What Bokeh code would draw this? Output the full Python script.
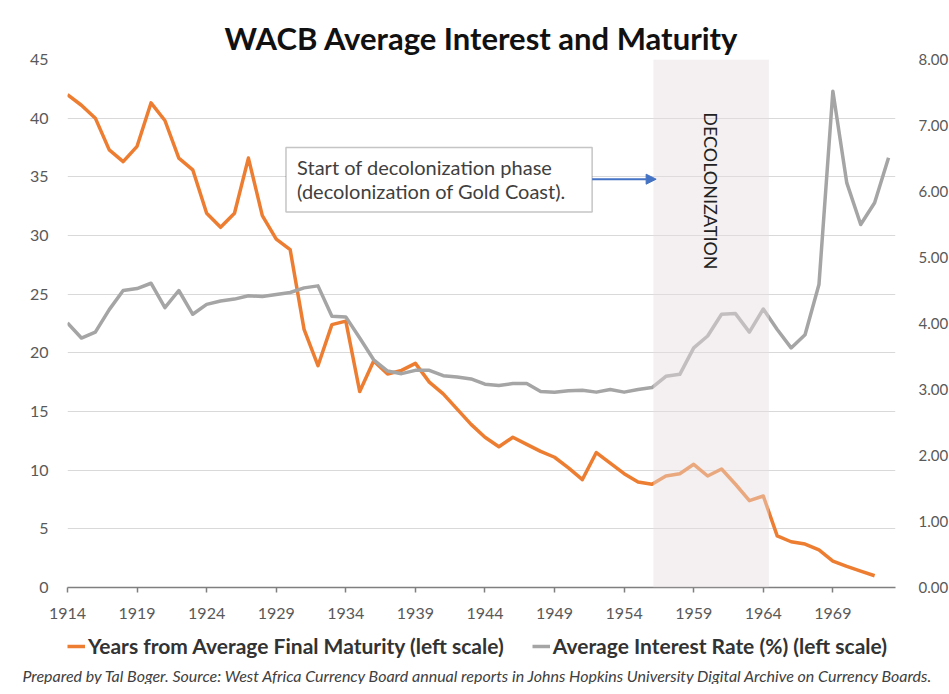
import math
from bokeh.plotting import figure
from bokeh.layouts import column
from bokeh.models import (Range1d, LinearAxis, FixedTicker, NumeralTickFormatter, BoxAnnotation,
                          Label, Arrow, NormalHead, Legend, LegendItem, Title)
from bokeh.embed import file_html
from bokeh.resources import INLINE

# ---------------- data ----------------
maturity_years = list(range(1914, 1973))
maturity = [42.0, 41.1, 40.0, 37.3, 36.3, 37.6, 41.3, 39.8, 36.6, 35.6,
            31.9, 30.7, 31.9, 36.6, 31.7, 29.7, 28.8, 22.0, 18.9, 22.4,
            22.7, 16.7, 19.3, 18.2, 18.5, 19.1, 17.5, 16.5, 15.2, 13.9,
            12.8, 12.0, 12.8, 12.2, 11.6, 11.1, 10.2, 9.2, 11.5, 10.6,
            9.7, 9.0, 8.8, 9.5, 9.7, 10.5, 9.5, 10.1, 8.8, 7.4,
            7.8, 4.4, 3.9, 3.7, 3.2, 2.25, 1.8, 1.4, 1.0]
rate_years = list(range(1914, 1974))
rate = [4.01, 3.78, 3.87, 4.21, 4.50, 4.53, 4.61, 4.24, 4.50, 4.14,
        4.29, 4.34, 4.37, 4.42, 4.41, 4.44, 4.47, 4.54, 4.57, 4.11,
        4.10, 3.78, 3.45, 3.28, 3.24, 3.29, 3.29, 3.21, 3.19, 3.16,
        3.08, 3.06, 3.09, 3.09, 2.97, 2.96, 2.98, 2.99, 2.96, 3.00,
        2.96, 3.00, 3.03, 3.20, 3.23, 3.63, 3.81, 4.14, 4.15, 3.87,
        4.22, 3.91, 3.63, 3.83, 4.59, 7.52, 6.13, 5.50, 5.83, 6.51]
x_ticks = [1914, 1919, 1924, 1929, 1934, 1939, 1944, 1949, 1954, 1959, 1964, 1969]
left_ticks = [0, 5, 10, 15, 20, 25, 30, 35, 40, 45]
right_ticks = [0, 1, 2, 3, 4, 5, 6, 7, 8]
decol_start, decol_end = 1956.1, 1964.4

title_text = "WACB Average Interest and Maturity"
series_names = ["Years from Average Final Maturity (left scale)",
                "Average Interest Rate (%) (left scale)"]
note_text = ("Prepared by Tal Boger. Source: West Africa Currency Board annual reports "
             "in Johns Hopkins University Digital Archive on Currency Boards.")

FONT = "Lato"
ORANGE = "#ed7d31"
GRAY = "#a5a5a5"
BLUE = "#4472c4"
TICK_COLOR = "#595959"

p = figure(frame_width=828, frame_height=528, output_backend="svg", toolbar_location=None,
           x_range=Range1d(1914, 1973.5), y_range=Range1d(0, 45),
           min_border_left=67, min_border_right=50, min_border_top=59, min_border_bottom=44)
p.outline_line_color = None
p.background_fill_color = "white"
p.border_fill_color = "white"

p.title.text = title_text
p.title.align = "center"
p.title.text_font = FONT
p.title.text_font_size = "31px"
p.title.text_font_style = "bold"
p.title.text_color = "#111111"
p.title.standoff = 5

# grid
p.xgrid.visible = False
p.ygrid.ticker = FixedTicker(ticks=left_ticks)
p.ygrid.grid_line_color = "#d9d9d9"
p.ygrid.grid_line_width = 1

# x axis
xa = p.xaxis[0]
xa.ticker = FixedTicker(ticks=x_ticks)
xa.axis_line_color = "#7f7f7f"
xa.axis_line_width = 1.5
xa.major_tick_line_color = "#7f7f7f"
xa.major_tick_line_width = 1.5
xa.major_tick_out = 5
xa.major_tick_in = 0
xa.minor_tick_line_color = None
xa.major_label_standoff = 15
xa.major_label_text_font = FONT
xa.major_label_text_font_size = "16px"
xa.major_label_text_color = TICK_COLOR

# left axis
ya = p.yaxis[0]
ya.ticker = FixedTicker(ticks=left_ticks)
ya.axis_line_color = None
ya.major_tick_line_color = None
ya.minor_tick_line_color = None
ya.major_label_standoff = 13
ya.major_label_text_font = FONT
ya.major_label_text_font_size = "16px"
ya.major_label_text_color = TICK_COLOR

# right axis
p.extra_y_ranges = {"rate": Range1d(0, 8)}
ra = LinearAxis(y_range_name="rate", ticker=FixedTicker(ticks=right_ticks),
                formatter=NumeralTickFormatter(format="0.00"))
ra.axis_line_color = None
ra.major_tick_line_color = None
ra.minor_tick_line_color = None
ra.major_label_standoff = 17
ra.major_label_text_font = FONT
ra.major_label_text_font_size = "15px"
ra.major_label_text_color = TICK_COLOR
p.add_layout(ra, "right")

# lines
r_mat = p.line(maturity_years, maturity, line_color=ORANGE, line_width=3.5, line_join="round")
r_rate = p.line(rate_years, rate, line_color=GRAY, line_width=3.5, line_join="round",
                y_range_name="rate")

# decolonization band (drawn over the lines, semi-transparent)
band = BoxAnnotation(left=decol_start, right=decol_end, fill_color="#e6dde1", fill_alpha=0.45,
                     line_color=None)
p.add_layout(band)
p.add_layout(Label(x=(decol_start + decol_end) / 2, y=33.8, text="DECOLONIZATION", angle=-math.pi / 2,
                   text_align="center", text_baseline="middle", text_font=FONT,
                   text_font_size="18px", text_color="#222222"))

# annotation box + arrow
p.add_layout(BoxAnnotation(left=1929.7, right=1951.7, top=37.5, bottom=32.0,
                           fill_color="white", fill_alpha=1.0, line_color="#404040", line_width=1.5))
p.add_layout(Label(x=1930.5, y=35.8, text="Start of decolonization phase", text_align="left",
                   text_baseline="middle", text_font=FONT, text_font_size="20px", text_color="#404040"))
p.add_layout(Label(x=1930.5, y=33.8, text="(decolonization of Gold Coast).", text_align="left",
                   text_baseline="middle", text_font=FONT, text_font_size="20px", text_color="#404040"))
p.add_layout(Arrow(end=NormalHead(size=10, fill_color=BLUE, line_color=BLUE),
                   x_start=1951.7, y_start=34.8, x_end=1956.3, y_end=34.8,
                   line_color=BLUE, line_width=2))

# ---------------- legend + source strip ----------------
p2 = figure(width=945, height=53, output_backend="svg", toolbar_location=None, title=None,
            x_axis_type=None, y_axis_type=None, x_range=Range1d(0, 1), y_range=Range1d(0, 1),
            min_border=0)
p2.outline_line_color = None
p2.xgrid.visible = False
p2.ygrid.visible = False
# legend keys only: the points lie outside the visible range
l_mat = p2.line([-2, -1], [-2, -1], line_color=ORANGE, line_width=3.5)
l_rate = p2.line([-2, -1], [-2, -1], line_color=GRAY, line_width=3.5)

legend = Legend(items=[LegendItem(label=series_names[0], renderers=[l_mat]),
                       LegendItem(label=series_names[1], renderers=[l_rate])],
                orientation="horizontal", location=(0, 5))
legend.label_text_font = FONT
legend.label_text_font_size = "21px"
legend.label_text_font_style = "bold"
legend.label_text_color = "#333333"
legend.glyph_width = 18
legend.glyph_height = 24
legend.label_height = 24
legend.label_standoff = 3
legend.spacing = 28
legend.border_line_color = None
legend.background_fill_alpha = 0
legend.padding = 0
legend.margin = 0
p2.add_layout(legend)

note = Title(text=note_text, align="center", text_font=FONT, text_font_size="16px",
             text_font_style="italic", text_color="#404040", standoff=0)
p2.add_layout(note, "below")

layout = column(p, p2, spacing=0)
open("out.html", "w").write(file_html(layout, INLINE))
